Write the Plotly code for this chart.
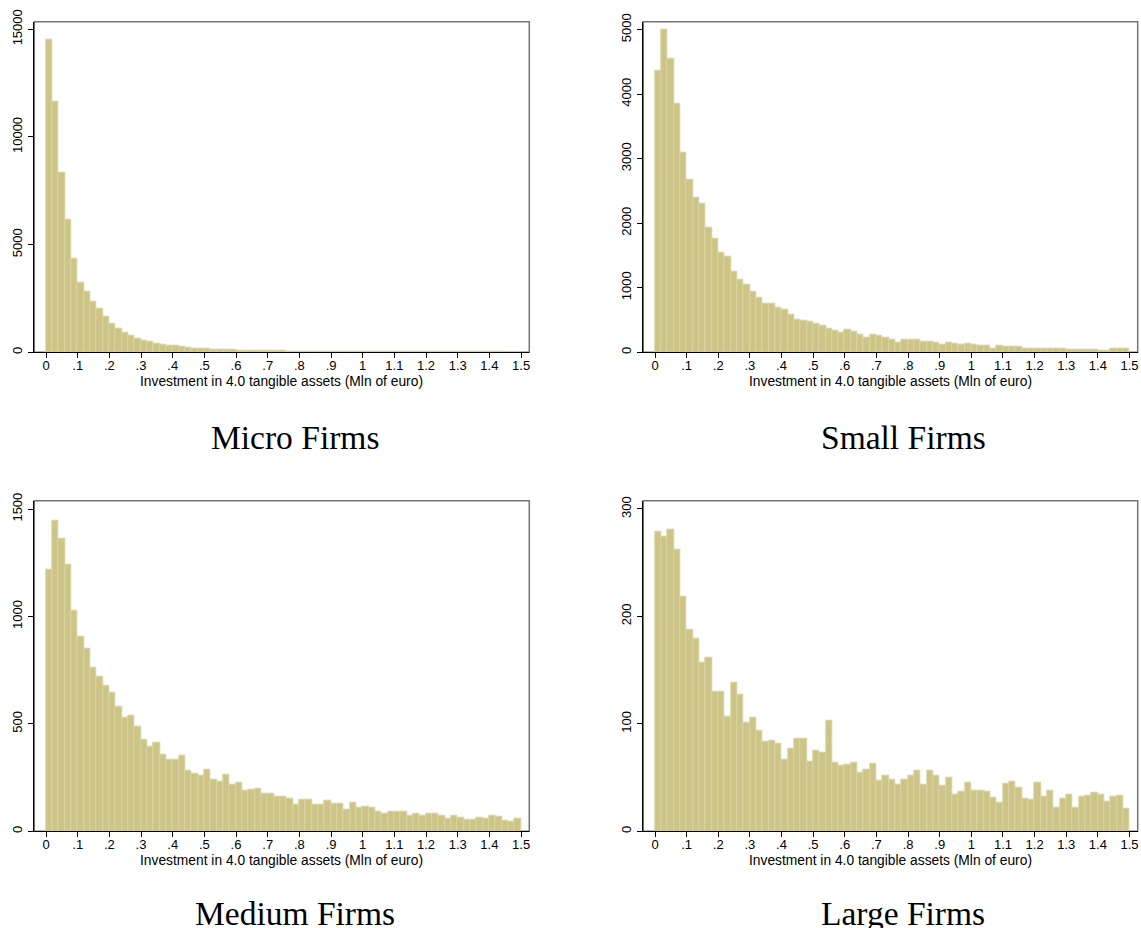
import numpy as np
import plotly.graph_objects as go

# ---------------- data (counts per 0.02-wide bin, 0 .. 1.5) ----------------
bin_width = 0.02
n_bins = 75

micro_counts = [
    14500, 11650, 8350, 6150, 4330, 3250, 2810, 2360, 2030, 1660,
    1330, 1095, 905, 750, 625, 560, 485, 420, 360, 310,
    295, 265, 220, 190, 160, 155, 140, 120, 110, 100,
    95, 90, 80, 75, 70, 65, 60, 55, 40, 35,
    50, 45, 25, 22, 20, 18, 18, 16, 15, 14,
    13, 12, 12, 11, 10, 10, 9, 9, 8, 8,
    8, 7, 7, 7, 6, 6, 6, 5, 5, 5, 5, 5, 4, 4, 4,
]
small_counts = [
    4370, 5000, 4545, 3850, 3100, 2670, 2400, 2300, 1925, 1760,
    1550, 1475, 1255, 1130, 1055, 945, 840, 760, 760, 685,
    660, 580, 512, 495, 480, 440, 405, 372, 340, 300,
    345, 325, 280, 230, 268, 253, 233, 202, 155, 191,
    202, 191, 160, 160, 145, 124, 145, 129, 114, 129,
    114, 98, 109, 62, 98, 93, 83, 83, 62, 62,
    62, 60, 60, 58, 56, 48, 47, 47, 46, 46, 32, 31, 50, 52, 52,
]
medium_counts = [
    1219, 1447, 1363, 1242, 1028, 904, 851, 763, 721, 679,
    647, 579, 530, 540, 489, 425, 392, 414, 358, 335,
    335, 354, 284, 270, 261, 289, 242, 233, 265, 219,
    228, 191, 195, 200, 177, 177, 163, 163, 154, 126,
    146, 149, 126, 126, 144, 127, 127, 102, 132, 109,
    113, 109, 93, 81, 93, 93, 90, 71, 81, 74,
    81, 81, 74, 60, 74, 62, 56, 56, 65, 60, 74, 70, 51, 47, 60,
]
large_counts = [
    279, 274, 281, 262, 218, 188, 179, 157, 162, 130,
    130, 107, 138, 127, 101, 106, 94, 83, 84, 82,
    67, 77, 86, 86, 65, 75, 73, 103, 64, 61,
    62, 64, 55, 57, 63, 47, 52, 48, 43, 48,
    52, 56, 43, 56, 52, 42, 50, 34, 37, 45,
    38, 38, 37, 31, 27, 44, 46, 41, 30, 29,
    45, 32, 38, 22, 30, 34, 22, 32, 33, 36, 34, 28, 32, 33, 21,
]

panel_titles = ["Micro Firms", "Small Firms", "Medium Firms", "Large Firms"]
x_title = "Investment in 4.0 tangible assets (Mln of euro)"

x_tickvals = [0, 0.1, 0.2, 0.3, 0.4, 0.5, 0.6, 0.7, 0.8, 0.9, 1.0, 1.1, 1.2, 1.3, 1.4, 1.5]
x_ticktext = ["0", ".1", ".2", ".3", ".4", ".5", ".6", ".7", ".8", ".9", "1", "1.1", "1.2", "1.3", "1.4", "1.5"]

y_tickvals = [
    [0, 5000, 10000, 15000],
    [0, 1000, 2000, 3000, 4000, 5000],
    [0, 500, 1000, 1500],
    [0, 100, 200, 300],
]
y_max = [15350, 5124, 1539, 307.7]

series = [micro_counts, small_counts, medium_counts, large_counts]

# ---------------- layout geometry ----------------
W, H = 1141, 928
x_dom = [[34.3 / W, 529.3 / W], [643.3 / W, 1137.7 / W]]
y_dom = [[1 - 352.3 / H, 1 - 21.7 / H], [1 - 831.3 / H, 1 - 500.7 / H]]
title_x = [295 / W, 903.5 / W]
title_y = [1 - 437 / H, 1 - 913 / H]

bar_fill = "#ccc587"
bar_edge = "#d9d3a0"
font_sans = "Liberation Sans, Arial, sans-serif"
font_serif = "Liberation Serif, Times New Roman, serif"

bin_left = np.arange(n_bins) * bin_width

fig = go.Figure()
layout = dict(
    width=W, height=H,
    margin=dict(l=0, r=0, t=0, b=0, autoexpand=False),
    paper_bgcolor="white", plot_bgcolor="white",
    showlegend=False, bargap=0,
    font=dict(family=font_sans, color="black", size=13),
    annotations=[], shapes=[],
)

for i, counts in enumerate(series):
    row, col = divmod(i, 2)
    ax = "" if i == 0 else str(i + 1)
    fig.add_trace(go.Bar(
        x=bin_left, y=counts, width=bin_width, offset=0,
        marker=dict(color=bar_fill, line=dict(color=bar_edge, width=1)),
        xaxis="x" + ax, yaxis="y" + ax,
        hovertemplate="%{x:.2f}: %{y}<extra></extra>",
    ))
    layout["xaxis" + ax] = dict(
        domain=x_dom[col], anchor="y" + ax, range=[-0.037, 1.526],
        tickvals=x_tickvals, ticktext=x_ticktext,
        ticks="outside", ticklen=5, tickwidth=1, tickcolor="black",
        showline=True, linecolor="black", linewidth=1.3,
        showgrid=False, zeroline=False, automargin=False,
        tickfont=dict(size=13, family=font_sans, color="black"),
        ticklabelstandoff=-4,
        fixedrange=True,
    )
    layout["yaxis" + ax] = dict(
        domain=y_dom[row], anchor="x" + ax, range=[0, y_max[i]],
        tickvals=y_tickvals[i], ticktext=[str(v) for v in y_tickvals[i]],
        tickangle=-90,
        ticks="outside", ticklen=5, tickwidth=1, tickcolor="black",
        showline=True, linecolor="black", linewidth=1.3,
        showgrid=False, zeroline=False, automargin=False,
        tickfont=dict(size=13, family=font_sans, color="black"),
        ticklabelstandoff=1,
        fixedrange=True,
    )
    # gray plot-region outline
    layout["shapes"].append(dict(
        type="rect", xref="x" + ax + " domain", yref="y" + ax + " domain",
        x0=0, x1=1, y0=0, y1=1, line=dict(color="#737373", width=1.5),
        layer="below",
    ))
    # x axis title
    layout["annotations"].append(dict(
        text=x_title, xref="x" + ax + " domain", yref="y" + ax + " domain",
        x=0.5, y=0, yshift=-29, xanchor="center", yanchor="middle",
        showarrow=False, font=dict(size=13.8, family=font_sans, color="black"),
    ))
    # panel caption
    layout["annotations"].append(dict(
        text=panel_titles[i], xref="paper", yref="paper",
        x=title_x[col], y=title_y[row], xanchor="center", yanchor="middle",
        showarrow=False, font=dict(size=33.5, family=font_serif, color="black"),
    ))

fig.update_layout(**layout)
fig.write_html("out.html")
